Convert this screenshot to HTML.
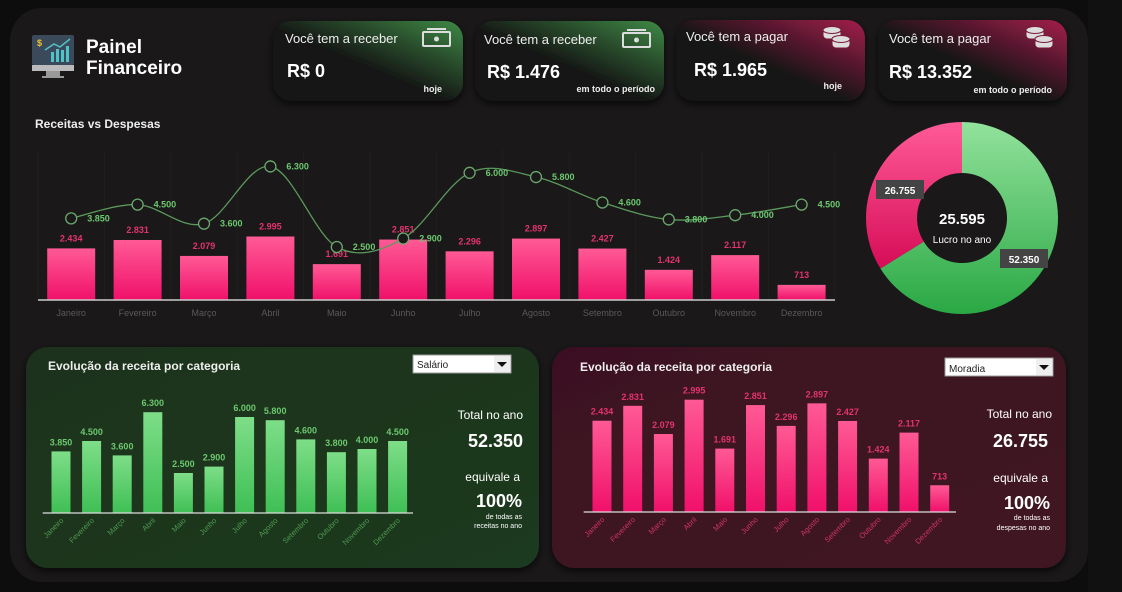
<!DOCTYPE html>
<html><head><meta charset="utf-8">
<style>
html,body{margin:0;padding:0;background:#0d0d0d;width:1122px;height:592px;overflow:hidden;font-family:"Liberation Sans",sans-serif;}
svg{display:block}
</style></head>
<body>
<svg id="root" width="1122" height="592" viewBox="0 0 1122 592" xmlns="http://www.w3.org/2000/svg">
<defs>
  <linearGradient id="pinkBar" x1="0" y1="0" x2="0" y2="1"><stop offset="0" stop-color="#ff5a95"/><stop offset="1" stop-color="#f0106a"/></linearGradient>
  <linearGradient id="greenBar" x1="0" y1="0" x2="0" y2="1"><stop offset="0" stop-color="#7ede88"/><stop offset="1" stop-color="#3fbf55"/></linearGradient>
  <linearGradient id="donutGreen" x1="0" y1="0" x2="0" y2="1"><stop offset="0" stop-color="#92e29c"/><stop offset="1" stop-color="#2aa844"/></linearGradient>
  <linearGradient id="donutPink" x1="0" y1="0" x2="0" y2="1"><stop offset="0" stop-color="#ff5b97"/><stop offset="1" stop-color="#d60c57"/></linearGradient>
  <linearGradient id="cardGreen" x1="0" y1="1" x2="1" y2="0"><stop offset="0.45" stop-color="#151515"/><stop offset="1" stop-color="#3f8a45"/></linearGradient>
  <linearGradient id="cardPink" x1="0" y1="1" x2="1" y2="0"><stop offset="0.45" stop-color="#151515"/><stop offset="1" stop-color="#a51d4c"/></linearGradient>
  <linearGradient id="panelGreen" x1="0" y1="0" x2="1" y2="1"><stop offset="0" stop-color="#1b321b"/><stop offset="1" stop-color="#1f3a20"/></linearGradient>
  <linearGradient id="panelPink" x1="0" y1="0" x2="1" y2="1"><stop offset="0" stop-color="#3b1120"/><stop offset="1" stop-color="#401524"/></linearGradient>
  <filter id="sh" x="-10%" y="-10%" width="120%" height="130%"><feDropShadow dx="0" dy="3" stdDeviation="4" flood-color="#000" flood-opacity="0.7"/></filter>
</defs>
<rect x="1088" y="0" width="34" height="592" fill="#111"/>
<rect x="10" y="8" width="1078" height="574" rx="32" fill="#1a1819"/>

<g>
  <rect x="32" y="35" width="42" height="30" rx="2" fill="#3a4a5a"/>
  <rect x="32" y="65" width="42" height="6" fill="#bbb"/>
  <rect x="46" y="71" width="14" height="5" fill="#999"/>
  <rect x="42" y="76" width="22" height="2" fill="#999"/>
  <text x="37" y="46" font-size="9" fill="#f4c430" font-weight="bold">$</text>
  <rect x="51" y="52" width="3" height="10" fill="#4fc3c7"/><rect x="56" y="49" width="3" height="13" fill="#4fc3c7"/><rect x="61" y="50" width="3" height="12" fill="#4fc3c7"/><rect x="66" y="46" width="3" height="16" fill="#4fc3c7"/>
  <polyline points="45,50 54,44 60,47 70,39" fill="none" stroke="#4fc3c7" stroke-width="1.5"/>
</g>
<text x="86" y="53" font-size="19" font-weight="bold" fill="#fff">Painel</text>
<text x="86" y="74" font-size="19" font-weight="bold" fill="#fff">Financeiro</text>

<g filter="url(#sh)">
  <rect x="273" y="21" width="190" height="80" rx="18" fill="url(#cardGreen)"/>
  <text x="285" y="43" font-size="13" fill="#eee">Você tem a receber</text>
  <text x="287" y="77" font-size="18" font-weight="bold" fill="#fff">R$ 0</text>
  <text x="442" y="92" font-size="9" font-weight="bold" fill="#eee" text-anchor="end">hoje</text>
  <rect x="423" y="32" width="27" height="14" rx="1" fill="none" stroke="#ddd" stroke-width="2"/><circle cx="436.5" cy="39" r="2.5" fill="#ddd"/><line x1="427" y1="29" x2="446" y2="29" stroke="#ddd" stroke-width="2"/>
</g>
<g filter="url(#sh)">
  <rect x="475" y="21" width="189" height="80" rx="18" fill="url(#cardGreen)"/>
  <text x="484" y="44" font-size="13" fill="#eee">Você tem a receber</text>
  <text x="487" y="78" font-size="18" font-weight="bold" fill="#fff">R$ 1.476</text>
  <text x="655" y="92" font-size="9" font-weight="bold" fill="#eee" text-anchor="end">em todo o período</text>
  <rect x="623" y="33" width="27" height="14" rx="1" fill="none" stroke="#ddd" stroke-width="2"/><circle cx="636.5" cy="40" r="2.5" fill="#ddd"/><line x1="627" y1="30" x2="646" y2="30" stroke="#ddd" stroke-width="2"/>
</g>
<g filter="url(#sh)">
  <rect x="676" y="20" width="189" height="81" rx="18" fill="url(#cardPink)"/>
  <text x="686" y="41" font-size="13" fill="#eee">Você tem a pagar</text>
  <text x="694" y="76" font-size="18" font-weight="bold" fill="#fff">R$ 1.965</text>
  <text x="842" y="89" font-size="9" font-weight="bold" fill="#eee" text-anchor="end">hoje</text>
  <g fill="#ddd" stroke="#7a1a3a" stroke-width="1">
    <rect x="823" y="29" width="18" height="10" rx="4"/><ellipse cx="832" cy="30" rx="9" ry="3.5"/>
    <rect x="832" y="38" width="18" height="10" rx="4"/><ellipse cx="841" cy="39" rx="9" ry="3.5"/>
  </g>
</g>
<g filter="url(#sh)">
  <rect x="878" y="20" width="189" height="81" rx="18" fill="url(#cardPink)"/>
  <text x="889" y="43" font-size="13" fill="#eee">Você tem a pagar</text>
  <text x="889" y="78" font-size="18" font-weight="bold" fill="#fff">R$ 13.352</text>
  <text x="1052" y="93" font-size="9" font-weight="bold" fill="#eee" text-anchor="end">em todo o período</text>
  <g fill="#ddd" stroke="#7a1a3a" stroke-width="1">
    <rect x="1026" y="29" width="18" height="10" rx="4"/><ellipse cx="1035" cy="30" rx="9" ry="3.5"/>
    <rect x="1035" y="38" width="18" height="10" rx="4"/><ellipse cx="1044" cy="39" rx="9" ry="3.5"/>
  </g>
</g>

<text x="35" y="128" font-size="12" font-weight="bold" fill="#eee">Receitas vs Despesas</text>
<g id="mainChart"></g>
<g id="donut"></g>

<g filter="url(#sh)"><rect x="26" y="347" width="513" height="221" rx="22" fill="url(#panelGreen)"/></g>
<g filter="url(#sh)"><rect x="552" y="347" width="514" height="221" rx="22" fill="url(#panelPink)"/></g>
<text x="48" y="370" font-size="12" font-weight="bold" fill="#eee">Evolução da receita por categoria</text>
<text x="580" y="371" font-size="12" font-weight="bold" fill="#eee">Evolução da receita por categoria</text>
<g>
  <rect x="413" y="355" width="98" height="18" fill="#fff" stroke="#999"/><text x="417" y="368" font-size="10" fill="#222">Salário</text>
  <rect x="494" y="356" width="16" height="16" fill="#eee"/><polygon points="497,362 507,362 502,367" fill="#111"/>
</g>
<g>
  <rect x="945" y="358" width="108" height="18" fill="#fff" stroke="#999"/><text x="949" y="372" font-size="10" fill="#222">Moradia</text>
  <rect x="1036" y="359" width="16" height="16" fill="#eee"/><polygon points="1039,365 1049,365 1044,370" fill="#111"/>
</g>
<g id="barsG"></g>
<g id="barsP"></g>

<g fill="#fff" text-anchor="end">
  <text x="523" y="419" font-size="12">Total no ano</text>
  <text x="523" y="447" font-size="18" font-weight="bold">52.350</text>
  <text x="520" y="481" font-size="12">equivale a</text>
  <text x="522" y="507" font-size="18" font-weight="bold">100%</text>
  <text x="522" y="519" font-size="7">de todas as</text>
  <text x="522" y="528" font-size="7">receitas no ano</text>
</g>
<g fill="#fff" text-anchor="end">
  <text x="1052" y="418" font-size="12">Total no ano</text>
  <text x="1048" y="447" font-size="18" font-weight="bold">26.755</text>
  <text x="1048" y="482" font-size="12">equivale a</text>
  <text x="1050" y="509" font-size="18" font-weight="bold">100%</text>
  <text x="1050" y="520" font-size="7">de todas as</text>
  <text x="1050" y="530" font-size="7">despesas no ano</text>
</g>
</svg>
<script>
const months = ["Janeiro","Fevereiro","Março","Abril","Maio","Junho","Julho","Agosto","Setembro","Outubro","Novembro","Dezembro"];
const receitas = [3850,4500,3600,6300,2500,2900,6000,5800,4600,3800,4000,4500];
const despesas = [2434,2831,2079,2995,1691,2851,2296,2897,2427,1424,2117,713];
const donutValues = [52350,26755];
const donutLabels = ["52.350","26.755"];
const lucroLabel = "25.595";

const NS="http://www.w3.org/2000/svg";
function mk(tag,attrs,parent,txt){const e=document.createElementNS(NS,tag);for(const k in attrs)e.setAttribute(k,attrs[k]);if(txt!==undefined)e.textContent=txt;parent.appendChild(e);return e;}
function fmt(v){return v.toLocaleString('de-DE');}

(function(){
  const g=document.getElementById('mainChart');
  const x0=38,step=66.4,base=300,sc=0.0212;
  const xs=i=>x0+step*(i+0.5), ys=v=>base-v*sc;
  for(let i=0;i<=12;i++){const l=mk('line',{x1:x0+step*i,x2:x0+step*i,y1:150,y2:300,stroke:'#202020','stroke-width':1},g);}
  despesas.forEach((v,i)=>{
    const r=mk('rect',{x:xs(i)-24,y:ys(v),width:48,height:base-ys(v),fill:'url(#pinkBar)'},g);
    
    const t=mk('text',{x:xs(i),y:ys(v)-7,'font-size':9,'font-weight':'bold',fill:'#e2336e','text-anchor':'middle'},g,fmt(v));
    
    const m=mk('text',{x:xs(i),y:316,'font-size':9,fill:'#5a5a5a','text-anchor':'middle'},g,months[i]);
    
  });
  const ax=mk('line',{x1:x0,x2:835,y1:base,y2:base,stroke:'#ccc','stroke-width':1.5},g);
  
  const P=receitas.map((v,i)=>[xs(i),ys(v)]);
  let d='M'+P[0][0]+','+P[0][1];
  for(let i=0;i<P.length-1;i++){const p0=P[Math.max(0,i-1)],p1=P[i],p2=P[i+1],p3=P[Math.min(P.length-1,i+2)];
    const c1=[p1[0]+(p2[0]-p0[0])/6,p1[1]+(p2[1]-p0[1])/6],c2=[p2[0]-(p3[0]-p1[0])/6,p2[1]-(p3[1]-p1[1])/6];
    d+=` C${c1[0]},${c1[1]} ${c2[0]},${c2[1]} ${p2[0]},${p2[1]}`;}
  const ln=mk('path',{d:d,fill:'none',stroke:'#5a9a5c','stroke-width':1.3},g);
  
  P.forEach((p,i)=>{
    const c=mk('circle',{cx:p[0],cy:p[1],r:5.5,fill:'#1a1819',stroke:'#6aa86c','stroke-width':1.3},g);
    
    const t=mk('text',{x:p[0]+16,y:p[1]+3,'font-size':9,'font-weight':'bold',fill:'#6cc86f'},g,fmt(receitas[i]));
    
  });
})();

(function(){
  const g=document.getElementById('donut');
  const cx=962,cy=218,R=96,r=45;
  const tot=donutValues[0]+donutValues[1];
  function arc(a0,a1){const p=(a,rad)=>[cx+rad*Math.sin(a),cy-rad*Math.cos(a)];const large=(a1-a0)>Math.PI?1:0;
    const A=p(a0,R),B=p(a1,R),C=p(a1,r),D=p(a0,r);
    return `M${A} A${R},${R} 0 ${large} 1 ${B} L${C} A${r},${r} 0 ${large} 0 ${D}Z`;}
  const aG=donutValues[0]/tot*2*Math.PI;
  const s1=mk('path',{d:arc(0,aG),fill:'url(#donutGreen)'},g);
  
  const s2=mk('path',{d:arc(aG,2*Math.PI),fill:'url(#donutPink)'},g);
  
  [[1024,259],[900,190]].forEach((p,i)=>{
    const bx=mk('rect',{x:p[0]-24,y:p[1]-10,width:48,height:19,fill:'#444'},g);
    
    const t=mk('text',{x:p[0],y:p[1]+4,'font-size':10,'font-weight':'bold',fill:'#fff','text-anchor':'middle'},g,donutLabels[i]);
    
  });
  const c1=mk('text',{x:cx,y:224,'font-size':15,'font-weight':'bold',fill:'#fff','text-anchor':'middle'},g,lucroLabel);
  
  const c2=mk('text',{x:cx,y:243,'font-size':10,fill:'#fff','text-anchor':'middle'},g,'Lucro no ano');
  
})();

function bars(id,vals,x0,step,base,sc,w,fill,lblColor,monColor,axisEnd){
  const g=document.getElementById(id);
  vals.forEach((v,i)=>{
    const cx=x0+step*i, top=base-v*sc;
    const r=mk('rect',{x:cx-w/2,y:top,width:w,height:v*sc,fill:fill},g);
    
    const t=mk('text',{x:cx,y:top-6,'font-size':9,fill:lblColor,'text-anchor':'middle','font-weight':'bold'},g,fmt(v));
    
    const m=mk('text',{x:cx+3,y:base+8,'font-size':7.5,fill:monColor,'text-anchor':'end',transform:`rotate(-45 ${cx+3} ${base+8})`},g,months[i]);
    
  });
  const ax=mk('line',{x1:x0-step/2-3,x2:axisEnd,y1:base,y2:base,stroke:'#ddd','stroke-width':1.2},g);
  
}
bars('barsG',receitas,61,30.6,513,0.016,19,'url(#greenBar)','#6cc86f','#4e9a52',413);
bars('barsP',despesas,602,30.7,512,0.0375,19,'url(#pinkBar)','#e2336e','#d0336a',956);
</script>
</body></html>
